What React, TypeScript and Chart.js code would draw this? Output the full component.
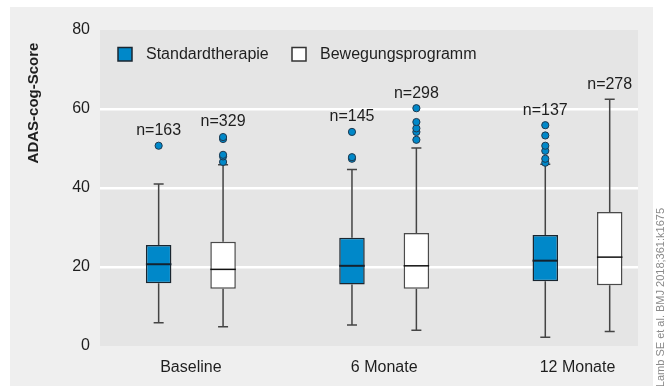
import React, { useEffect, useRef } from 'react';
import { Chart, registerables } from 'chart.js';
Chart.register(...registerables);

// ---------- data ----------
const categories = ['Baseline', '6 Monate', '12 Monate'];
const seriesNames = ['Standardtherapie', 'Bewegungsprogramm'];

const stdMin = [5.9, 5.3, 2.2];
const stdQ1 = [15.9, 15.6, 16.4];
const stdMedian = [20.7, 20.3, 21.6];
const stdQ3 = [25.6, 27.4, 28.1];
const stdMax = [41.0, 44.7, 46.0];
const stdOutliers = [[50.7], [47.4, 47.8, 54.2], [46.4, 47.4, 49.4, 50.7, 53.3, 55.9]];
const stdN = [163, 145, 137];

const bewMin = [4.9, 4.0, 3.7];
const bewQ1 = [14.5, 14.5, 15.4];
const bewMedian = [19.4, 20.3, 22.5];
const bewQ3 = [26.4, 28.6, 33.9];
const bewMax = [45.9, 50.1, 62.5];
const bewOutliers = [[46.6, 48.0, 48.4, 52.4, 52.9], [52.2, 54.2, 55.1, 56.7, 60.2], []];
const bewN = [329, 298, 278];

const yTicks = [0, 20, 40, 60, 80];
const yTitle = 'ADAS-cog-Score';
const sourceNote = 'Lamb SE et al. BMJ 2018;361:k1675';

// ---------- style ----------
const BLUE = '#0088c9';
const FONT = "'Liberation Sans', Arial, sans-serif";
const TEXT = '#1e1e1e';
const OFF = 0.1666;
const CAP = 5;

type Series = {
  name: string; min: number[]; q1: number[]; med: number[]; q3: number[]; max: number[];
  out: number[][]; n: number[]; offset: number; fill: string; border: string;
};

const series: Series[] = [
  { name: seriesNames[0], min: stdMin, q1: stdQ1, med: stdMedian, q3: stdQ3, max: stdMax, out: stdOutliers, n: stdN, offset: -OFF, fill: BLUE, border: '#1a2630' },
  { name: seriesNames[1], min: bewMin, q1: bewQ1, med: bewMedian, q3: bewQ3, max: bewMax, out: bewOutliers, n: bewN, offset: OFF, fill: '#ffffff', border: '#4a4a4a' },
];

const boxPlugin = {
  id: 'boxExtras',
  beforeDraw(chart: any) {
    const { ctx, chartArea: a } = chart;
    ctx.save();
    ctx.fillStyle = '#ffffff';
    ctx.fillRect(0, 0, chart.width, chart.height);
    ctx.fillStyle = '#efefef';
    ctx.fillRect(10, 7, 643, chart.height - 7);
    ctx.fillStyle = '#e5e5e5';
    ctx.fillRect(a.left, a.top, a.right - a.left, a.bottom - a.top);
    ctx.restore();
  },
  beforeDatasetsDraw(chart: any) {
    const { ctx } = chart;
    const xs = chart.scales.x, ys = chart.scales.y;
    ctx.save();
    ctx.strokeStyle = '#444';
    ctx.lineWidth = 1.5;
    series.forEach((s) => {
      categories.forEach((_, i) => {
        const x = xs.getPixelForValue(i + s.offset);
        const yMax = ys.getPixelForValue(s.max[i]);
        const yQ3 = ys.getPixelForValue(s.q3[i]);
        const yQ1 = ys.getPixelForValue(s.q1[i]);
        const yMin = ys.getPixelForValue(s.min[i]);
        ctx.beginPath();
        ctx.moveTo(x, yMax); ctx.lineTo(x, yQ3);
        ctx.moveTo(x, yQ1); ctx.lineTo(x, yMin);
        ctx.moveTo(x - CAP, yMax); ctx.lineTo(x + CAP, yMax);
        ctx.moveTo(x - CAP, yMin); ctx.lineTo(x + CAP, yMin);
        ctx.stroke();
      });
    });
    ctx.restore();
  },
  afterDatasetsDraw(chart: any) {
    const { ctx } = chart;
    const xs = chart.scales.x, ys = chart.scales.y;
    ctx.save();
    series.forEach((s, si) => {
      const meta = chart.getDatasetMeta(si);
      categories.forEach((_, i) => {
        const bar = meta.data[i];
        const half = bar.width / 2;
        const x = xs.getPixelForValue(i + s.offset);
        const y = ys.getPixelForValue(s.med[i]);
        ctx.strokeStyle = si === 0 ? '#14222e' : '#111';
        ctx.lineWidth = si === 0 ? 2 : 1.5;
        ctx.beginPath();
        ctx.moveTo(x - half, y); ctx.lineTo(x + half, y);
        ctx.stroke();
        // n label
        const top = Math.max(s.max[i], ...(s.out[i].length ? s.out[i] : [s.max[i]]));
        const ty = ys.getPixelForValue(top) - 15;
        ctx.fillStyle = TEXT;
        ctx.font = `16px ${FONT}`;
        ctx.textAlign = 'center';
        ctx.textBaseline = 'middle';
        ctx.fillText('n=' + s.n[i], x, ty);
      });
    });
    ctx.restore();
  },
  afterDraw(chart: any) {
    const { ctx } = chart;
    ctx.save();
    // legend
    const items = [
      { x: 118, fill: BLUE, border: '#1a2630', label: seriesNames[0] },
      { x: 292, fill: '#ffffff', border: '#333', label: seriesNames[1] },
    ];
    items.forEach((it) => {
      ctx.fillStyle = it.fill;
      ctx.fillRect(it.x, 47.5, 14, 13.5);
      ctx.strokeStyle = it.border;
      ctx.lineWidth = 1.5;
      ctx.strokeRect(it.x, 47.5, 14, 13.5);
      ctx.fillStyle = TEXT;
      ctx.font = `16px ${FONT}`;
      ctx.textAlign = 'left';
      ctx.textBaseline = 'middle';
      ctx.fillText(it.label, it.x + 28, 54.5);
    });
    // y title
    ctx.save();
    ctx.translate(34, 103);
    ctx.rotate(-Math.PI / 2);
    ctx.font = `bold 15px ${FONT}`;
    ctx.fillStyle = TEXT;
    ctx.textAlign = 'center';
    ctx.textBaseline = 'middle';
    ctx.fillText(yTitle, 0, 0);
    ctx.restore();
    // source note
    ctx.save();
    ctx.translate(661, 208);
    ctx.rotate(-Math.PI / 2);
    ctx.font = `11px ${FONT}`;
    ctx.fillStyle = '#8a8a8a';
    ctx.textAlign = 'right';
    ctx.textBaseline = 'middle';
    ctx.fillText(sourceNote, 0, 0);
    ctx.restore();
    ctx.restore();
  },
};

export default function App() {
  const ref = useRef<HTMLCanvasElement | null>(null);
  useEffect(() => {
    if (!ref.current) return;
    const outlierPoints: { x: number; y: number }[] = [];
    series.forEach((s) => s.out.forEach((arr, i) => arr.forEach((v) => outlierPoints.push({ x: i + s.offset, y: v }))));
    const chart = new Chart(ref.current, {
      type: 'bar',
      data: {
        datasets: [
          ...series.map((s) => ({
            type: 'bar' as const,
            label: s.name,
            data: categories.map((_, i) => ({ x: i + s.offset, y: [s.q1[i], s.q3[i]] })) as any,
            backgroundColor: s.fill,
            borderColor: s.border,
            borderWidth: 1.5,
            borderSkipped: false,
            grouped: false,
            categoryPercentage: 1,
            barPercentage: 0.396,
          })),
          {
            type: 'scatter' as const,
            label: 'Ausreißer',
            data: outlierPoints as any,
            backgroundColor: BLUE,
            borderColor: '#1f3a50',
            borderWidth: 1,
            pointRadius: 3.6,
            pointHoverRadius: 3.6,
          },
        ],
      },
      options: {
        animation: false,
        responsive: false,
        devicePixelRatio: 1,
        layout: { padding: { left: 0, right: 29, top: 30, bottom: 0 } },
        plugins: { legend: { display: false }, tooltip: { enabled: false } },
        scales: {
          x: {
            type: 'linear',
            offset: false,
            min: -0.47,
            max: 2.313,
            afterBuildTicks: (s: any) => { s.ticks = categories.map((_, i) => ({ value: i })); },
            afterFit: (s: any) => { s.height = 40; },
            ticks: {
              callback: (v: any) => categories[Math.round(Number(v))] ?? '',
              font: { family: FONT, size: 16 },
              color: TEXT,
              padding: 12,
              maxRotation: 0,
              autoSkip: false,
            },
            grid: { display: false, drawTicks: false, offset: false },
            border: { display: false },
          },
          y: {
            type: 'linear',
            min: 0,
            max: 80,
            afterBuildTicks: (s: any) => { s.ticks = yTicks.map((v) => ({ value: v })); },
            afterFit: (s: any) => { s.width = 100; },
            ticks: {
              font: { family: FONT, size: 16 },
              color: TEXT,
              padding: 10,
            },
            grid: {
              drawTicks: false,
              color: (c: any) => (c.tick && c.tick.value > 0 && c.tick.value < 80 ? '#ffffff' : 'rgba(0,0,0,0)'),
              lineWidth: 2.5,
            },
            border: { display: false },
          },
        },
      },
      plugins: [boxPlugin],
    });
    return () => chart.destroy();
  }, []);
  return (
    <div style={{ position: 'absolute', left: 0, top: 0, width: 667, height: 386 }}>
      <canvas ref={ref} width={667} height={386} style={{ display: 'block' }} />
    </div>
  );
}
